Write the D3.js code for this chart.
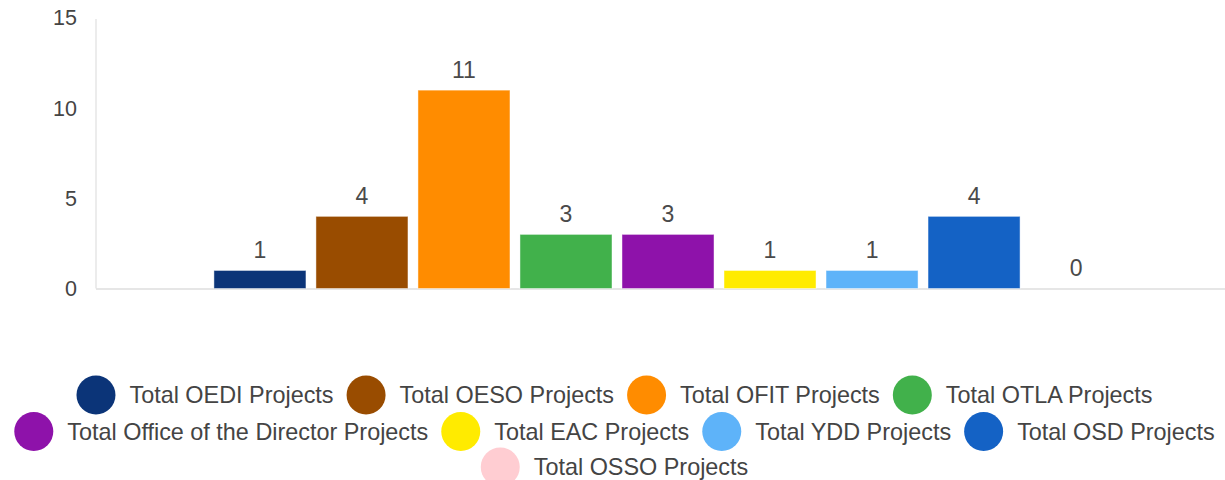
<!DOCTYPE html>
<html>
<head>
<meta charset="utf-8">
<script src="https://cdn.jsdelivr.net/npm/d3@7"></script>
<style>
  html, body { margin: 0; padding: 0; background: #fff; }
  svg { display: block; font-family: "Liberation Sans", Arial, sans-serif; }
</style>
</head>
<body>
<svg id="chart" width="1225" height="480"></svg>
<script>
// ---- data ----
const categories = ["Projects"];
const seriesNames = [
  "Total OEDI Projects",
  "Total OESO Projects",
  "Total OFIT Projects",
  "Total OTLA Projects",
  "Total Office of the Director Projects",
  "Total EAC Projects",
  "Total YDD Projects",
  "Total OSD Projects",
  "Total OSSO Projects"
];
const seriesValues = [1, 4, 11, 3, 3, 1, 1, 4, 0];
const seriesColors = ["#0b3478", "#994c00", "#ff8c00", "#41b14b", "#8e12aa", "#ffeb00", "#5eb3f9", "#1462c5", "#ffcdd2"];
const yTicks = [0, 5, 10, 15];

// ---- layout ----
const svg = d3.select("#chart");
const plot = { left: 96, right: 1240, top: 18, bottom: 288.5 };

const y = d3.scaleLinear().domain([0, 15]).range([plot.bottom, plot.top]);
const x0 = d3.scaleBand().domain(categories).range([plot.left, plot.right]).paddingInner(0).paddingOuter(0.123);
const x1 = d3.scaleBand().domain(seriesNames).range([0, x0.bandwidth()]).paddingInner(0.098).paddingOuter(0.049);

// axis lines
svg.append("line")
  .attr("x1", plot.left).attr("x2", plot.left)
  .attr("y1", plot.top + 1).attr("y2", plot.bottom)
  .attr("stroke", "#e6e6e6").attr("stroke-width", 1.5);
svg.append("line")
  .attr("x1", plot.left).attr("x2", 1225)
  .attr("y1", plot.bottom + 0.5).attr("y2", plot.bottom + 0.5)
  .attr("stroke", "#dedede").attr("stroke-width", 1.5);

// y axis via d3 axis, styled
const yAxis = d3.axisLeft(y).tickValues(yTicks).tickSize(0).tickPadding(19);
const gY = svg.append("g").attr("transform", `translate(${plot.left},0)`).call(yAxis);
gY.select(".domain").remove();
gY.selectAll("text")
  .attr("font-family", "Liberation Sans, Arial, sans-serif")
  .attr("font-size", 21.5)
  .attr("fill", "#444");

// bars
const data = seriesNames.map((n, i) => ({ name: n, value: seriesValues[i], color: seriesColors[i], cat: categories[0] }));
const g = svg.append("g");
g.selectAll("rect").data(data).enter().append("rect")
  .attr("x", d => x0(d.cat) + x1(d.name))
  .attr("y", d => y(d.value))
  .attr("width", x1.bandwidth())
  .attr("height", d => y(0) - y(d.value))
  .attr("fill", d => d.color)
  .attr("stroke", "rgba(255,255,255,0.45)")
  .attr("stroke-width", 1);

g.selectAll("text.val").data(data).enter().append("text")
  .attr("class", "val")
  .attr("x", d => x0(d.cat) + x1(d.name) + x1.bandwidth() / 2)
  .attr("y", d => y(d.value) - 12.5)
  .attr("text-anchor", "middle")
  .attr("font-size", 23)
  .attr("fill", "#4a4a4a")
  .text(d => d.value);

// legend
const legendFont = 23.4;
const circleD = 39, gapCT = 14, gapItem = 13;
const maxRowWidth = 1212;
const rowYs = [395, 431.5, 467];
const centerX = 614.5;

const lg = svg.append("g");
const measure = lg.append("text").attr("font-size", legendFont).attr("visibility", "hidden");
const items = data.map(d => {
  measure.text(d.name);
  const tw = measure.node().getComputedTextLength();
  return { ...d, tw, w: circleD + gapCT + tw };
});
measure.remove();

const rows = [];
let cur = [], curW = 0;
items.forEach(it => {
  const add = (cur.length ? gapItem : 0) + it.w;
  if (cur.length && curW + add > maxRowWidth) {
    rows.push({ items: cur, w: curW });
    cur = [it]; curW = it.w;
  } else { cur.push(it); curW += add; }
});
if (cur.length) rows.push({ items: cur, w: curW });

rows.forEach((row, ri) => {
  let xPos = centerX - row.w / 2;
  const cy = rowYs[ri];
  row.items.forEach(it => {
    lg.append("ellipse")
      .attr("cx", xPos + circleD / 2).attr("cy", cy)
      .attr("rx", circleD / 2).attr("ry", circleD / 2)
      .attr("fill", it.color);
    lg.append("text")
      .attr("x", xPos + circleD + gapCT).attr("y", cy)
      .attr("dy", "0.35em")
      .attr("font-size", legendFont)
      .attr("fill", "#444")
      .text(it.name);
    xPos += it.w + gapItem;
  });
});
</script>
</body>
</html>
